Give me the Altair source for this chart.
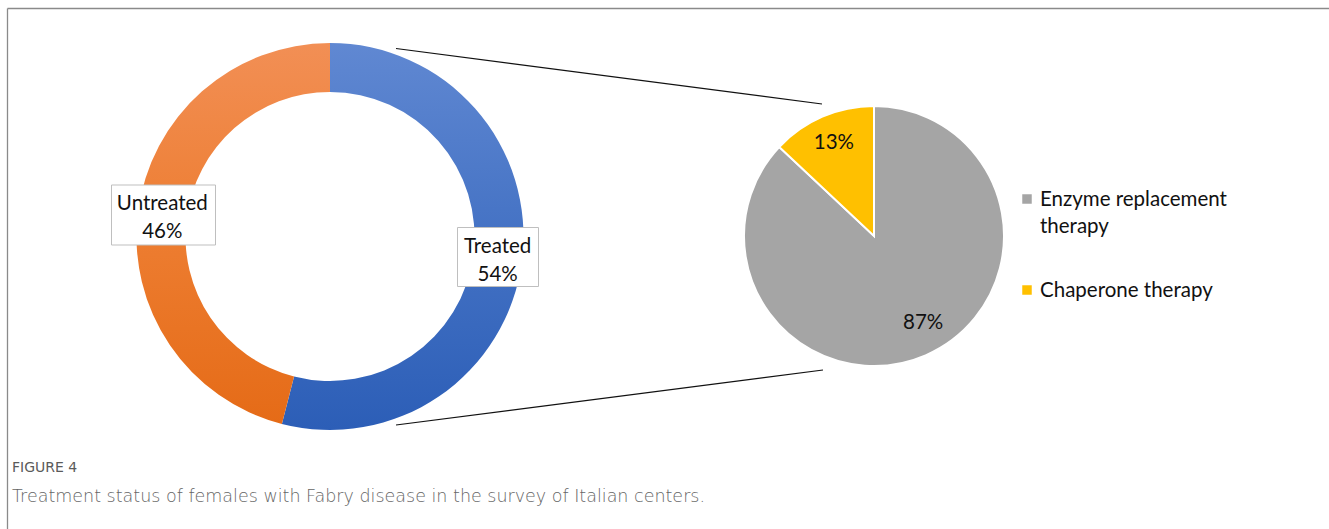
import altair as alt
import pandas as pd

# ---- data ----
status = ["Treated", "Untreated"]
status_pct = [54, 46]
status_label = ["Treated\n54%", "Untreated\n46%"]

therapy = ["Enzyme replacement therapy", "Chaperone therapy"]
therapy_pct = [87, 13]
therapy_label = ["87%", "13%"]
legend_lines = ["Enzyme replacement\ntherapy", "Chaperone therapy"]

caption_title = "FIGURE 4"
caption_text = "Treatment status of females with Fabry disease in the survey of Italian centers."

FONT = "Lato"
FS = 20.5

donut_df = pd.DataFrame({"status": status, "pct": status_pct, "label": status_label, "ord": [0, 1]})
pie_df = pd.DataFrame({"therapy": therapy, "pct": therapy_pct, "label": therapy_label, "ord": [0, 1]})

theta_scale = alt.Scale(domain=[0, 100], range=[0, 6.283185307179586])

blue_grad = alt.Gradient(gradient="linear", x1=0, x2=0, y1=0, y2=1,
                         stops=[alt.GradientStop(color="#6088D2", offset=0),
                                alt.GradientStop(color="#4472C4", offset=0.5),
                                alt.GradientStop(color="#2C5EB7", offset=1)])
orange_grad = alt.Gradient(gradient="linear", x1=0, x2=0, y1=0, y2=1,
                           stops=[alt.GradientStop(color="#F28F55", offset=0),
                                  alt.GradientStop(color="#ED7D31", offset=0.5),
                                  alt.GradientStop(color="#E56B17", offset=1)])

DCX, DCY = 330, 236.5
PCX, PCY = 874, 236

base_d = alt.Chart(donut_df)

donut = base_d.mark_arc(outerRadius=193.5, innerRadius=144.5).encode(
    theta=alt.Theta("pct:Q", stack=True, scale=theta_scale),
    order=alt.Order("ord:Q"),
    fill=alt.condition(alt.datum.status == "Treated", alt.value(blue_grad.to_dict()), alt.value(orange_grad.to_dict())),
    x=alt.value(DCX), y=alt.value(DCY),
)

# label boxes (decoration)
boxes_df = pd.DataFrame({"x": [111.5, 457.5], "x2": [215.5, 538.5], "y": [185, 227.5], "y2": [245, 286.5]})
boxes = alt.Chart(boxes_df).mark_rect(fill="white", stroke="#BFBFBF", strokeWidth=1).encode(
    x=alt.X("x:Q", scale=None), x2="x2:Q", y=alt.Y("y:Q", scale=None), y2="y2:Q")

donut_text = base_d.mark_text(font=FONT, fontSize=FS, color="#111", lineBreak="\n",
                              lineHeight=28, radius=169, dy=-9).encode(
    theta=alt.Theta("pct:Q", stack=True, scale=theta_scale),
    order=alt.Order("ord:Q"),
    text="label:N",
    x=alt.value(DCX), y=alt.value(DCY - 2),
)

base_p = alt.Chart(pie_df)
pie = base_p.mark_arc(outerRadius=130, stroke="white", strokeWidth=2).encode(
    theta=alt.Theta("pct:Q", stack=True, scale=theta_scale),
    order=alt.Order("ord:Q"),
    color=alt.Color("therapy:N", scale=alt.Scale(domain=therapy, range=["#A5A5A5", "#FFC000"]), legend=None),
    x=alt.value(PCX), y=alt.value(PCY),
)
pie_text_a = base_p.mark_text(font=FONT, fontSize=FS, color="#111", radius=101, dx=9, dy=-6).encode(
    theta=alt.Theta("pct:Q", stack=True, scale=theta_scale),
    order=alt.Order("ord:Q"),
    text=alt.condition(alt.datum.ord == 0, alt.Text("label:N"), alt.value("")),
    x=alt.value(PCX), y=alt.value(PCY),
)
pie_text_b = base_p.mark_text(font=FONT, fontSize=FS, color="#111", radius=101).encode(
    theta=alt.Theta("pct:Q", stack=True, scale=theta_scale),
    order=alt.Order("ord:Q"),
    text=alt.condition(alt.datum.ord == 1, alt.Text("label:N"), alt.value("")),
    x=alt.value(PCX), y=alt.value(PCY),
)

# connector lines
lines_df = pd.DataFrame({"x": [396, 396], "y": [48.5, 425], "x2": [822, 823], "y2": [104, 370]})
lines = alt.Chart(lines_df).mark_rule(color="#111", strokeWidth=1.2).encode(
    x=alt.X("x:Q", scale=None), y=alt.Y("y:Q", scale=None), x2="x2:Q", y2="y2:Q")

# legend
leg_df = pd.DataFrame({"therapy": therapy, "legend": legend_lines, "ly": [199, 290]})
leg_sq = alt.Chart(leg_df).mark_square(size=90, opacity=1, filled=True).encode(
    x=alt.value(1027), y=alt.Y("ly:Q", scale=None),
    color=alt.Color("therapy:N", scale=alt.Scale(domain=therapy, range=["#A5A5A5", "#FFC000"]), legend=None))
leg_txt = alt.Chart(leg_df).mark_text(font=FONT, fontSize=FS, color="#111", align="left",
                                      baseline="top", lineBreak="\n", lineHeight=27, dy=-9).encode(
    x=alt.value(1040), y=alt.Y("ly:Q", scale=None), text="legend:N")

# frame
frame_df = pd.DataFrame({"x": [7.5, 7.5], "x2": [1329, 7.5], "y": [8.5, 8.5], "y2": [8.5, 529]})
frame = alt.Chart(frame_df).mark_rule(color="#8A8A8A", strokeWidth=1.3).encode(
    x=alt.X("x:Q", scale=None), y=alt.Y("y:Q", scale=None), x2="x2:Q", y2="y2:Q")

# caption
cap1 = alt.Chart(pd.DataFrame({"t": [caption_title]})).mark_text(
    font="DejaVu Sans", fontSize=14, color="#5a5a5a", align="left", baseline="middle").encode(
    x=alt.value(12), y=alt.value(468), text="t:N")
cap2 = alt.Chart(pd.DataFrame({"t": [caption_text]})).mark_text(
    font="DejaVu Sans", fontSize=17.5, fontWeight=200, color="#666666", align="left", baseline="middle").encode(
    x=alt.value(12), y=alt.value(497), text="t:N")

chart = alt.layer(frame, lines, donut, boxes, donut_text, pie, pie_text_a, pie_text_b, leg_sq, leg_txt, cap1, cap2).resolve_scale(
    color="independent", theta="independent"
).properties(
    width=1329, height=529, autosize=alt.AutoSizeParams(type="none"), padding=0,
    background="white"
).configure_view(stroke=None)

chart.save("out.html", embed_options={"renderer": "svg", "actions": False})
